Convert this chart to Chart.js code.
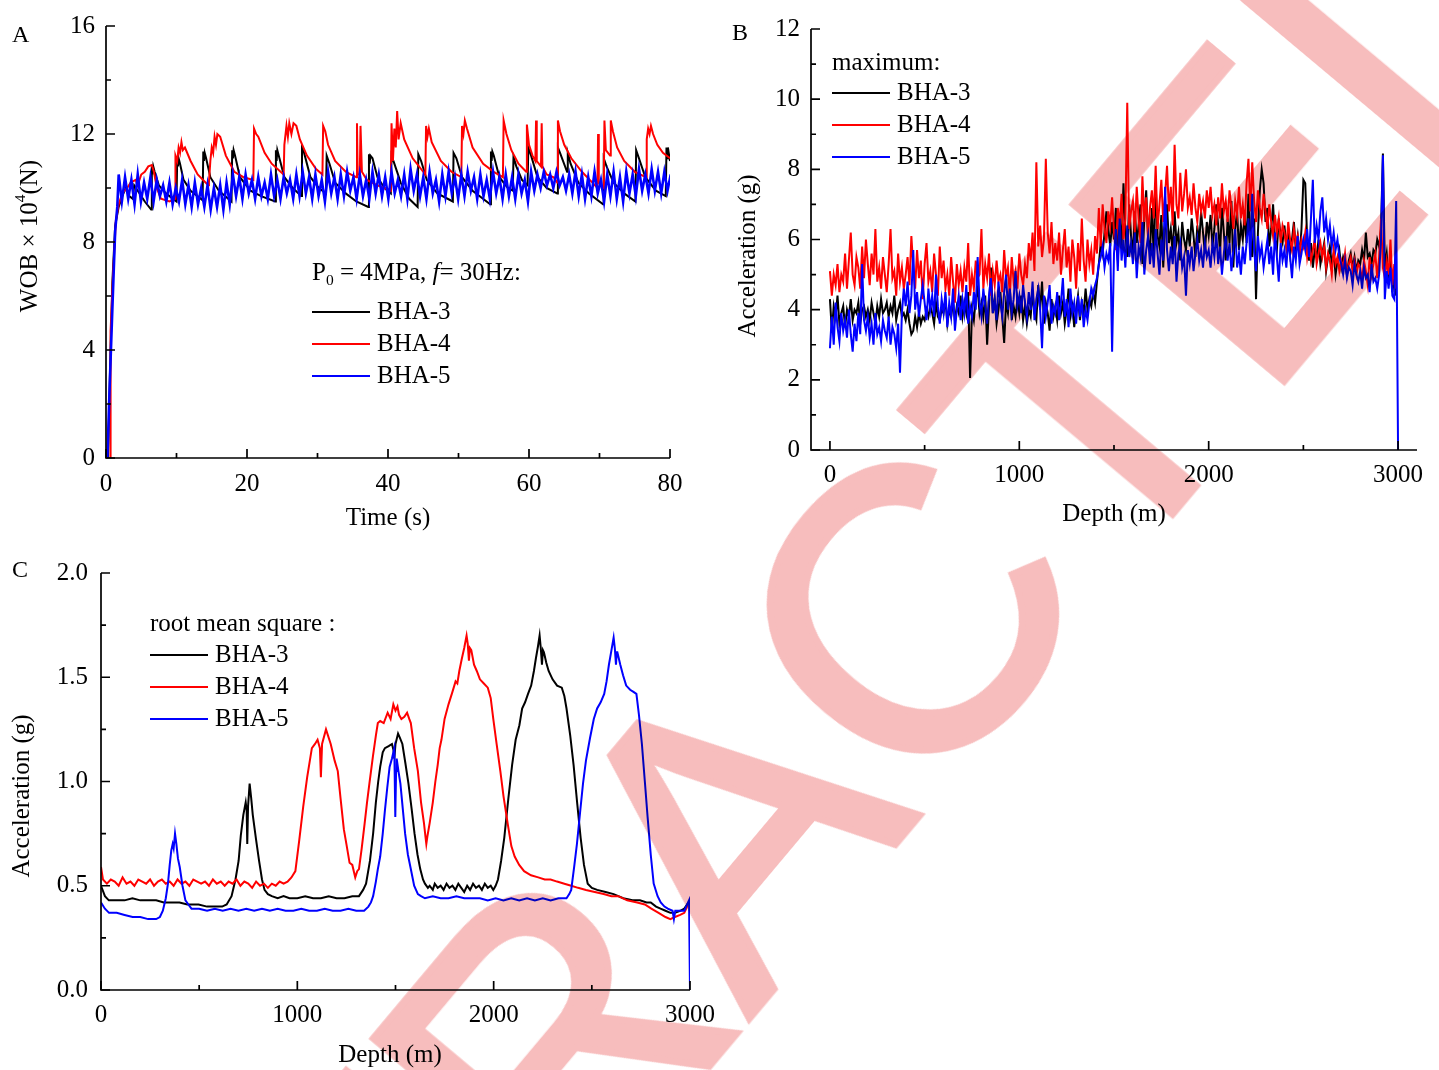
<!DOCTYPE html>
<html><head><meta charset="utf-8">
<script src="https://cdn.jsdelivr.net/npm/chart.js@4.4.1/dist/chart.umd.min.js"></script>
<style>
html,body{margin:0;padding:0;background:#fff;overflow:hidden;width:1439px;height:1070px;}
.panel{position:absolute;}
#wm{position:absolute;left:-210px;top:1636px;transform-origin:0 0;transform:rotate(-50deg);font-family:'Liberation Sans',Arial,sans-serif;font-size:400px;line-height:1;color:rgb(247,189,189);-webkit-text-stroke:7px rgb(247,189,189);mix-blend-mode:multiply;white-space:nowrap;pointer-events:none;}
</style></head><body>
<div class="panel" style="left:0;top:0"><canvas id="cA" width="700" height="545"></canvas></div>
<div class="panel" style="left:720px;top:0"><canvas id="cB" width="719" height="545"></canvas></div>
<div class="panel" style="left:0;top:545px"><canvas id="cC" width="740" height="525"></canvas></div>
<div id="wm">RETRACTED</div>
<script>
// ---------------- DATA ----------------
const seriesNames = ['BHA-3', 'BHA-4', 'BHA-5'];
const seriesColors = ['#000000', '#ff0000', '#0000ff'];

// Panel A: WOB vs time  ([time s, WOB x10^4 N])
const timeTicksA = [0, 20, 40, 60, 80];
const timeMinorA = [10, 30, 50, 70];
const wobTicksA = [0, 4, 8, 12, 16];
const wobMinorA = [2, 6, 10, 14];

const wobBlack = [[0.3,0],[0.55,3.0],[0.9,6.5],[1.3,8.6],[1.8,9.3],[2.3,9.7],[2.8,10.0],[3.3,9.7],[3.8,9.6],[4.0,10.1],[4.5,9.9],[5.5,9.5],[6.4,9.2],[6.5,10.8],[6.6,10.5],[6.7,10.8],[6.9,10.6],[7.5,10.1],[8.5,9.8],[10.0,9.5],[10.1,11.1],[10.2,10.8],[10.3,11.1],[10.5,10.9],[11.0,10.3],[12.0,9.9],[13.7,9.55],[13.8,11.35],[13.9,11.0],[14.0,11.3],[14.2,11.1],[14.8,10.4],[16.0,9.9],[17.8,9.5],[17.9,11.4],[18.0,11.1],[18.1,11.4],[18.3,11.2],[19.0,10.4],[20.5,9.9],[22.0,9.7],[24.0,9.5],[24.1,11.4],[24.2,11.0],[24.3,11.4],[24.5,11.2],[25.3,10.4],[26.5,10.0],[27.7,9.7],[27.8,11.5],[28.1,11.3],[29.0,10.4],[30.2,10.0],[31.2,9.8],[31.3,11.2],[31.7,10.9],[32.5,10.2],[34.0,9.8],[35.5,9.5],[37.2,9.3],[37.3,11.25],[37.4,10.9],[37.5,11.2],[37.8,11.1],[38.5,10.4],[39.5,10.0],[40.4,9.8],[40.5,11.2],[40.9,10.9],[41.8,10.2],[43.0,9.6],[44.2,9.3],[44.3,11.25],[44.7,11.0],[45.5,10.3],[47.0,9.8],[49.2,9.5],[49.3,11.3],[49.7,11.1],[50.5,10.4],[52.0,9.9],[54.5,9.4],[54.6,11.35],[54.7,11.0],[54.8,11.35],[55.0,11.2],[55.8,10.4],[57.0,10.0],[57.7,9.9],[57.8,11.15],[58.2,10.8],[59.0,10.3],[59.8,10.1],[59.9,11.5],[60.3,11.2],[61.2,10.4],[62.5,10.0],[64.0,9.8],[64.1,11.5],[64.4,11.3],[65.4,10.6],[65.5,11.3],[65.9,10.9],[67.0,10.2],[68.5,9.8],[70.5,9.4],[70.6,11.1],[71.0,10.8],[72.0,10.2],[73.5,9.8],[75.1,9.5],[75.2,11.4],[75.6,11.1],[76.5,10.4],[78.0,9.9],[79.4,9.7],[79.5,11.5],[79.6,11.1],[79.7,11.5],[80.0,11.0]];

const wobRed = [[0.6,0],[0.65,4.7],[1.0,6.8],[1.4,8.8],[1.8,9.4],[2.3,9.8],[3.0,10.0],[3.5,10.2],[4.2,10.3],[4.5,10.1],[5.0,10.5],[5.5,10.6],[6.0,10.8],[6.5,10.85],[6.8,10.6],[7.2,10.0],[7.8,9.6],[9.0,9.5],[9.8,9.6],[9.85,11.2],[10.1,11.0],[10.3,11.5],[10.5,11.3],[10.7,11.7],[10.9,11.4],[11.2,11.5],[12.0,11.0],[13.0,10.5],[14.5,10.1],[14.6,10.2],[14.8,11.0],[15.0,11.5],[15.2,11.3],[15.4,11.9],[15.6,11.6],[15.8,12.0],[16.2,11.9],[17.0,11.2],[18.2,10.6],[19.5,10.4],[20.9,10.3],[21.0,12.2],[21.3,12.0],[21.6,11.9],[22.5,11.3],[23.5,10.9],[25.2,10.5],[25.3,11.6],[25.6,12.3],[25.8,11.9],[26.0,12.4],[26.3,12.0],[26.6,12.4],[27.0,12.3],[27.5,11.8],[28.5,11.2],[29.8,10.7],[30.7,10.5],[30.8,12.3],[31.1,12.1],[31.5,11.6],[32.5,11.0],[34.0,10.6],[35.5,10.4],[35.6,12.4],[35.7,10.5],[36.0,10.5],[36.1,12.3],[36.3,10.6],[37.0,10.3],[38.5,10.1],[39.5,10.0],[40.4,9.9],[40.5,12.4],[40.7,11.0],[40.9,12.2],[41.1,11.5],[41.3,12.85],[41.5,11.8],[41.8,12.4],[42.3,11.8],[43.5,11.1],[45.3,10.5],[45.4,12.3],[45.6,11.9],[45.8,12.2],[46.2,11.7],[47.5,11.0],[49.0,10.6],[50.4,10.4],[50.5,12.3],[50.7,12.0],[50.9,12.5],[51.2,12.2],[52.0,11.5],[53.5,10.9],[55.0,10.6],[56.3,10.4],[56.4,12.5],[56.8,12.0],[57.5,11.4],[58.5,10.9],[59.6,10.6],[59.7,12.35],[60.0,11.6],[60.5,11.2],[60.9,11.0],[61.0,12.5],[61.1,11.0],[61.7,10.8],[61.8,12.4],[61.9,10.8],[62.5,10.5],[63.5,10.4],[64.0,10.2],[64.1,12.5],[64.4,12.1],[65.0,11.6],[66.0,11.1],[67.5,10.6],[69.0,10.2],[69.7,10.0],[69.8,12.0],[69.9,10.2],[70.6,10.0],[70.7,12.5],[70.9,11.4],[71.5,11.2],[71.6,12.5],[71.9,12.1],[72.5,11.5],[73.5,11.0],[75.0,10.6],[76.6,10.4],[76.7,11.8],[76.9,12.2],[77.1,12.0],[77.3,12.3],[77.6,12.0],[78.2,11.6],[79.0,11.3],[80.0,11.1]];

const wobBlueStart = [[0.2,0],[0.5,2.5],[0.9,5.5],[1.3,8.4],[1.6,9.3]];
const blueT0 = 1.8, blueDt = 0.45;   // sampling of the oscillating part
const wobBlueOsc = [
10.5,9.5,10.4,9.6,10.3,9.4,10.5,9.5,10.2,9.6,10.4,9.5,10.3,9.7,
10.1,9.5,10.2,9.4,10.0,9.5,10.3,9.4,10.1,9.3,10.2,9.4,10.0,9.3,10.1,9.2,10.0,9.3,10.1,9.2,10.2,9.4,
10.5,9.7,10.4,9.6,10.5,9.8,10.3,9.6,10.4,9.7,10.2,9.6,10.5,9.7,10.3,9.6,10.4,9.8,10.3,9.6,10.5,9.7,
10.6,9.8,10.4,9.6,10.5,9.7,10.3,9.5,10.6,9.8,10.4,9.6,10.5,9.7,10.6,9.9,10.4,9.6,10.5,9.7,10.3,9.6,
10.6,9.8,10.5,9.7,10.4,9.6,10.6,9.8,10.3,9.7,10.5,9.6,10.7,9.9,10.5,9.7,10.4,9.6,10.6,9.8,10.3,9.5,
10.5,9.7,10.6,9.8,10.4,9.6,10.5,9.7,10.6,9.9,10.4,9.6,10.5,9.7,10.3,9.6,10.6,9.8,10.4,9.6,10.5,9.7,
10.4,9.6,10.5,9.8,10.3,9.5,10.6,9.9,10.5,10.0,10.6,10.1,10.5,10.0,10.6,10.1,10.4,9.9,10.5,9.8,10.6,9.7,
10.5,9.6,10.4,9.7,10.6,9.8,10.3,9.5,10.5,9.7,10.6,9.6,10.4,9.5,10.6,9.8,10.5,9.7,10.7,9.9,10.5,9.8,
10.7,9.9,10.6,9.8,10.6,9.9,10.5];

// Panel B: maximum acceleration vs depth (10 m sampling)
const depthStepB = 10;
const depthTicksB = [0, 1000, 2000, 3000];
const depthMinorB = [500, 1500, 2500];
const accTicksB = [0, 2, 4, 6, 8, 10, 12];
const accMinorB = [1, 3, 5, 7, 9, 11];
const maxBlack = [
4.3,3.4,4.1,3.8,4.4,3.6,3.9,4.1,3.5,4.0, 3.8,4.3,3.7,4.0,3.9,4.2,3.6,4.0,4.1,3.8,
4.0,3.7,4.2,3.9,3.6,4.1,3.8,4.3,3.9,4.0, 4.2,3.8,4.1,3.9,4.4,3.7,4.0,4.2,3.8,3.9,
3.7,4.0,3.6,3.3,3.4,3.8,3.5,3.9,3.6,3.8, 3.7,4.0,3.8,4.1,3.9,3.6,4.2,3.8,3.7,4.0,
3.9,4.3,3.6,4.0,3.8,4.2,3.7,4.1,3.9,4.4, 3.8,4.2,3.9,4.5,2.05,4.0,3.7,4.3,4.6,3.9,
4.2,3.8,4.4,3.0,4.1,5.2,3.9,4.3,3.6,4.0, 4.5,3.8,3.05,4.2,3.9,4.6,3.7,4.1,3.8,4.3,
3.9,4.4,3.7,4.1,3.6,4.0,3.8,4.5,3.9,3.7, 4.7,4.0,4.8,3.6,4.2,3.9,3.4,4.3,3.8,4.1,
3.7,4.4,3.9,4.2,3.6,4.0,4.6,3.8,4.1,3.5, 4.0,4.4,3.7,4.2,3.9,4.6,4.0,4.3,4.1,4.5,
4.2,4.8,5.3,5.9,5.6,6.2,6.8,6.3,5.8,6.5, 6.0,6.9,5.4,6.6,5.8,7.6,6.2,5.5,7.0,6.1,
5.6,6.8,5.9,6.4,7.0,5.3,6.6,7.4,6.0,5.7, 6.9,5.5,7.6,6.1,5.8,6.7,5.2,6.4,7.0,5.9,
6.3,5.6,6.8,5.9,6.2,5.4,6.5,6.0,5.7,6.3, 5.8,6.6,6.1,5.5,6.4,5.9,6.8,6.2,5.6,6.5,
6.1,6.7,5.8,6.3,7.0,6.4,5.6,6.9,6.2,5.4, 6.6,5.9,7.1,5.2,6.3,6.8,5.7,6.4,6.0,6.7,
5.9,7.3,6.1,5.5,6.6,4.3,6.2,7.4,8.0,7.6, 6.5,6.9,5.8,6.3,7.0,6.0,5.7,6.6,6.1,5.9,
6.4,5.8,6.2,5.6,6.0,6.5,5.7,6.1,5.5,6.3, 7.7,7.6,6.0,5.4,5.9,5.2,5.7,5.5,6.0,5.3,
5.6,5.9,5.1,5.5,5.8,5.3,5.6,5.0,5.4,5.7, 5.2,5.5,5.3,5.0,5.4,5.6,5.2,5.5,5.1,5.4,
5.3,5.7,5.4,6.2,5.5,5.6,5.3,5.7,5.6,6.0, 5.8,6.3,8.45,5.2,5.6,4.8,5.4,4.5,4.9,4.4];
const maxRed = [
5.1,4.4,5.0,4.7,5.3,4.5,5.0,4.8,5.6,4.6, 5.4,6.2,5.0,4.7,5.5,5.2,4.6,5.8,4.9,6.0,
5.3,4.7,5.6,5.0,6.3,4.8,5.2,4.6,5.5,5.0, 4.5,5.3,6.3,4.9,5.1,4.4,5.6,4.8,5.2,4.6,
5.0,5.5,4.7,6.1,5.2,4.6,5.7,4.9,5.4,4.3, 5.3,5.9,4.8,5.1,4.5,5.6,5.0,4.4,5.8,4.9,
5.4,4.6,5.0,4.4,5.5,4.8,4.2,5.3,4.7,5.1, 4.5,5.2,4.8,5.9,4.4,5.0,4.6,5.4,4.9,5.0,
6.3,4.6,5.3,4.9,5.6,4.4,5.1,4.7,5.4,4.8, 5.0,4.5,5.7,4.9,5.2,4.4,5.5,4.8,5.1,4.6,
5.6,5.0,4.7,5.3,4.9,5.9,5.4,6.2,5.1,8.2, 5.8,6.4,5.5,6.0,8.3,6.2,5.6,6.5,5.3,5.9,
5.4,6.2,5.0,5.7,6.3,5.2,5.8,4.8,6.0,5.5, 4.6,5.9,5.1,6.6,5.4,4.8,6.0,5.3,5.7,5.0,
6.1,5.6,6.9,5.8,7.0,6.3,5.9,6.8,6.4,7.2, 6.2,5.7,6.9,6.4,7.3,6.0,6.6,9.9,6.3,6.8,
7.1,6.2,7.5,6.6,5.9,7.8,6.5,7.2,6.1,6.9, 7.4,6.6,8.1,6.3,7.0,7.7,6.5,7.3,8.1,6.8,
7.5,6.4,8.7,7.0,6.6,7.9,6.8,7.3,8.0,6.9, 7.2,6.7,7.6,6.9,6.5,7.3,6.8,7.1,6.6,7.4,
6.9,7.5,6.7,7.0,6.4,7.2,6.6,7.6,6.8,7.1, 6.5,7.4,6.9,6.3,7.1,6.7,7.5,6.6,7.0,6.4,
7.6,8.3,6.8,8.2,7.1,6.5,7.4,6.9,6.6,7.3, 6.8,6.3,7.0,6.5,6.1,6.7,6.2,6.6,5.9,6.4,
6.2,5.8,6.5,6.0,5.7,6.3,5.9,6.1,5.6,6.0, 5.8,6.2,5.5,5.9,5.4,5.7,6.0,5.3,5.6,5.9,
5.5,5.8,5.2,5.6,5.4,5.0,5.7,5.3,5.5,5.1, 5.4,5.2,5.6,5.0,5.3,5.5,5.1,5.4,5.0,5.3,
5.2,4.8,5.4,5.1,4.7,5.5,5.0,5.3,5.6,4.9, 5.5,6.6,5.2,4.9,5.4,5.0,6.0,4.7,5.3,4.6];
const maxBlue = [
2.9,3.8,3.0,4.2,3.5,3.1,3.9,3.4,3.7,3.2, 4.0,3.3,2.8,3.6,3.1,3.9,3.3,5.3,3.7,3.4,
3.8,3.2,3.6,3.0,3.9,3.3,3.5,3.1,3.7,3.4, 3.2,3.8,3.0,3.5,3.3,2.9,3.6,2.2,3.9,4.6,
4.1,4.8,3.9,4.4,5.7,4.0,4.5,3.8,4.3,4.7, 4.2,3.7,4.6,4.0,4.4,3.8,5.0,4.1,3.6,4.3,
3.9,4.5,3.5,4.2,3.8,4.6,3.4,4.0,4.4,3.7, 4.3,3.9,4.7,3.6,4.1,3.8,4.5,4.0,5.5,4.2,
3.8,4.6,4.1,3.6,4.4,4.9,3.9,4.3,3.7,4.8, 4.2,3.8,4.5,5.0,4.0,4.6,3.9,4.3,5.1,4.1,
4.4,3.9,4.7,4.2,3.8,4.5,4.0,4.8,3.7,4.3, 4.6,4.0,2.9,4.4,3.8,4.2,4.7,3.6,4.1,3.9,
4.5,3.7,4.2,4.9,3.8,4.3,3.5,4.6,3.9,4.2, 3.6,4.4,3.8,4.3,3.5,4.0,3.7,4.2,4.6,4.4,
4.7,4.9,5.3,5.5,5.8,5.2,5.6,5.4,5.9,2.8, 5.6,6.3,5.1,6.6,5.4,6.0,5.2,6.4,5.5,5.9,
5.3,6.2,4.9,5.8,5.5,6.5,5.0,5.7,6.1,5.3, 5.9,5.2,6.3,5.6,5.0,6.0,5.4,7.5,5.7,5.1,
5.8,5.3,6.1,4.8,5.6,5.9,5.2,5.5,4.4,5.7, 5.3,5.8,5.1,5.6,6.0,5.4,5.7,5.2,5.9,5.5,
5.7,5.2,5.9,5.5,6.2,5.3,5.8,5.0,5.6,6.1, 5.4,5.9,5.1,5.7,6.3,5.2,5.6,5.0,5.8,5.3,
5.9,6.6,5.4,7.3,5.7,5.1,6.1,5.5,5.8,5.2, 5.6,6.0,5.3,5.8,5.0,6.2,5.5,4.8,5.9,5.4,
5.7,5.2,6.0,5.5,4.9,5.8,5.4,6.1,5.3,5.6, 6.0,5.7,6.3,5.5,6.6,7.7,5.9,6.4,6.0,6.8,
7.2,6.2,6.6,6.0,6.4,5.8,6.2,5.7,6.0,5.5, 5.3,5.0,5.4,4.9,5.2,5.1,4.7,5.3,5.0,4.8,
5.1,4.6,5.2,4.9,5.0,4.5,5.3,4.8,4.9,4.6, 5.0,6.0,8.4,4.3,5.1,4.6,5.2,4.4,4.3,7.1,
0.0];

// Panel C: RMS acceleration vs depth ([depth m, acceleration g])
const depthTicksC = [0, 1000, 2000, 3000];
const depthMinorC = [500, 1500, 2500];
const accTicksC = [0, 0.5, 1.0, 1.5, 2.0];
const accMinorC = [0.25, 0.75, 1.25, 1.75];
const rmsBlack = [[0,0.50],[20,0.45],[40,0.43],[80,0.43],[120,0.43],[160,0.44],[200,0.43],[240,0.43],[281,0.43],[320,0.42],[360,0.42],[400,0.42],[440,0.41],[497,0.41],[540,0.40],[580,0.40],[617,0.40],[640,0.41],[665,0.45],[685,0.53],[701,0.62],[712,0.74],[725,0.84],[737,0.90],[742,0.86],[745,0.70],[749,0.88],[757,0.99],[765,0.92],[773,0.84],[790,0.72],[805,0.62],[820,0.53],[833,0.48],[850,0.46],[870,0.45],[900,0.44],[930,0.45],[960,0.44],[1000,0.44],[1040,0.45],[1080,0.44],[1120,0.44],[1160,0.45],[1200,0.44],[1240,0.44],[1280,0.45],[1314,0.45],[1335,0.48],[1350,0.51],[1370,0.62],[1386,0.75],[1400,0.90],[1412,1.00],[1422,1.07],[1435,1.14],[1446,1.16],[1465,1.17],[1482,1.18],[1490,1.15],[1494,1.11],[1500,1.18],[1513,1.23],[1522,1.21],[1535,1.18],[1550,1.09],[1566,0.99],[1582,0.87],[1597,0.75],[1612,0.65],[1626,0.58],[1640,0.53],[1650,0.51],[1665,0.49],[1674,0.50],[1690,0.48],[1700,0.51],[1715,0.49],[1730,0.50],[1745,0.48],[1760,0.51],[1775,0.49],[1790,0.50],[1805,0.48],[1820,0.51],[1835,0.49],[1850,0.47],[1865,0.50],[1880,0.48],[1895,0.51],[1910,0.49],[1925,0.50],[1940,0.48],[1955,0.51],[1970,0.49],[1985,0.50],[1998,0.48],[2010,0.50],[2022,0.53],[2038,0.62],[2054,0.73],[2075,0.92],[2094,1.08],[2112,1.20],[2131,1.27],[2145,1.35],[2160,1.38],[2175,1.42],[2191,1.46],[2205,1.53],[2215,1.59],[2226,1.65],[2234,1.70],[2240,1.64],[2246,1.56],[2251,1.63],[2256,1.62],[2268,1.57],[2280,1.53],[2300,1.49],[2323,1.46],[2347,1.45],[2360,1.41],[2371,1.35],[2390,1.22],[2407,1.08],[2425,0.90],[2443,0.73],[2460,0.60],[2479,0.51],[2500,0.49],[2527,0.48],[2570,0.47],[2611,0.46],[2660,0.44],[2707,0.43],[2745,0.43],[2779,0.42],[2800,0.42],[2827,0.40],[2850,0.39],[2875,0.38],[2900,0.37],[2923,0.37],[2950,0.38],[2971,0.39],[3000,0.43]];
const rmsRed = [[0,0.59],[10,0.53],[30,0.51],[50,0.53],[70,0.52],[90,0.50],[110,0.54],[130,0.51],[150,0.52],[170,0.50],[190,0.53],[210,0.52],[230,0.51],[250,0.53],[270,0.50],[290,0.52],[310,0.53],[330,0.51],[350,0.52],[370,0.50],[390,0.53],[410,0.51],[430,0.52],[450,0.50],[470,0.53],[490,0.52],[510,0.51],[530,0.52],[550,0.50],[570,0.53],[590,0.51],[610,0.52],[630,0.50],[650,0.52],[670,0.51],[690,0.53],[710,0.50],[730,0.52],[750,0.51],[770,0.49],[790,0.52],[810,0.50],[830,0.51],[850,0.49],[870,0.51],[890,0.50],[910,0.52],[930,0.51],[950,0.52],[970,0.54],[990,0.57],[1010,0.72],[1030,0.88],[1050,1.02],[1074,1.16],[1090,1.18],[1103,1.20],[1115,1.16],[1120,1.02],[1126,1.18],[1146,1.25],[1170,1.18],[1190,1.10],[1206,1.05],[1220,0.92],[1237,0.77],[1250,0.70],[1266,0.61],[1280,0.60],[1295,0.54],[1305,0.57],[1314,0.58],[1328,0.68],[1343,0.80],[1355,0.90],[1367,0.99],[1385,1.12],[1400,1.22],[1410,1.28],[1422,1.29],[1440,1.28],[1460,1.33],[1475,1.30],[1489,1.37],[1500,1.34],[1510,1.36],[1518,1.32],[1530,1.30],[1545,1.31],[1559,1.33],[1570,1.30],[1578,1.28],[1595,1.16],[1614,1.05],[1630,0.90],[1645,0.80],[1652,0.74],[1657,0.70],[1663,0.74],[1674,0.80],[1690,0.90],[1703,1.00],[1715,1.08],[1725,1.16],[1734,1.20],[1750,1.30],[1770,1.37],[1790,1.43],[1806,1.48],[1815,1.47],[1825,1.53],[1838,1.59],[1850,1.64],[1862,1.70],[1868,1.66],[1874,1.58],[1879,1.64],[1886,1.63],[1900,1.56],[1914,1.53],[1930,1.49],[1950,1.47],[1970,1.45],[1985,1.40],[1998,1.30],[2015,1.18],[2034,1.05],[2050,0.93],[2071,0.80],[2090,0.69],[2107,0.64],[2130,0.60],[2155,0.57],[2190,0.55],[2227,0.54],[2260,0.53],[2290,0.53],[2323,0.52],[2360,0.51],[2395,0.50],[2430,0.49],[2470,0.48],[2515,0.47],[2560,0.46],[2600,0.45],[2635,0.45],[2680,0.43],[2731,0.42],[2770,0.41],[2803,0.39],[2840,0.37],[2875,0.35],[2900,0.34],[2923,0.35],[2950,0.36],[2971,0.37],[2995,0.42]];
const rmsBlue = [[0,0.42],[20,0.39],[41,0.37],[80,0.37],[120,0.36],[161,0.35],[200,0.35],[240,0.34],[281,0.34],[300,0.35],[315,0.38],[330,0.44],[341,0.51],[350,0.60],[358,0.67],[365,0.70],[370,0.68],[377,0.75],[384,0.70],[392,0.63],[401,0.59],[415,0.50],[430,0.43],[445,0.41],[461,0.39],[500,0.39],[540,0.38],[580,0.39],[620,0.38],[660,0.39],[700,0.38],[740,0.39],[780,0.38],[820,0.39],[860,0.38],[900,0.39],[940,0.38],[980,0.38],[1020,0.39],[1060,0.38],[1100,0.38],[1140,0.39],[1180,0.38],[1220,0.38],[1260,0.39],[1300,0.38],[1340,0.38],[1362,0.40],[1375,0.42],[1386,0.45],[1400,0.52],[1410,0.58],[1422,0.64],[1435,0.75],[1446,0.86],[1458,0.97],[1470,1.07],[1482,1.11],[1494,1.16],[1499,0.83],[1503,1.05],[1506,1.11],[1515,1.05],[1525,0.99],[1537,0.87],[1549,0.75],[1563,0.65],[1578,0.58],[1595,0.50],[1614,0.46],[1630,0.45],[1650,0.44],[1690,0.45],[1730,0.44],[1770,0.44],[1810,0.45],[1850,0.44],[1890,0.44],[1930,0.44],[1970,0.43],[2010,0.44],[2050,0.43],[2090,0.44],[2130,0.43],[2170,0.44],[2210,0.43],[2250,0.44],[2290,0.43],[2330,0.44],[2371,0.44],[2385,0.46],[2395,0.48],[2410,0.59],[2424,0.70],[2440,0.85],[2455,0.99],[2470,1.10],[2491,1.21],[2510,1.30],[2527,1.35],[2545,1.38],[2563,1.42],[2575,1.48],[2587,1.56],[2600,1.63],[2611,1.69],[2617,1.64],[2623,1.56],[2627,1.62],[2630,1.62],[2645,1.56],[2659,1.51],[2675,1.46],[2695,1.44],[2712,1.43],[2727,1.42],[2740,1.32],[2755,1.18],[2770,1.00],[2784,0.83],[2800,0.65],[2815,0.51],[2835,0.45],[2851,0.42],[2870,0.40],[2887,0.39],[2911,0.38],[2918,0.34],[2925,0.38],[2935,0.38],[2950,0.38],[2971,0.38],[2995,0.43],[3000,0.0]];

// ---------------- BUILD ----------------
const FF = '"Liberation Serif", "Times New Roman", serif';
const TXT = 25;
const pairs = p => p.map(([x, y]) => ({x, y}));
const gridB = vals => vals.map((v, i) => ({x: i * depthStepB, y: v}));
const blueA = pairs(wobBlueStart).concat(wobBlueOsc.map((v, i) => ({x: blueT0 + i * blueDt, y: v})));

function rich(ctx, pieces, x, y, size, align) {
  const fontOf = p => (p.it ? 'italic ' : '') + ((p.sub || p.sup) ? size * 0.62 : size) + 'px ' + FF;
  let total = 0;
  pieces.forEach(p => { ctx.font = fontOf(p); total += ctx.measureText(p.t).width; });
  let cx = align === 'center' ? x - total / 2 : x;
  ctx.textAlign = 'left';
  pieces.forEach(p => {
    ctx.font = fontOf(p);
    const dy = p.sub ? size * 0.32 : (p.sup ? -size * 0.36 : 0);
    ctx.fillText(p.t, cx, y + dy);
    cx += ctx.measureText(p.t).width;
  });
}

const deco = {
  id: 'deco',
  afterDraw(chart, args, o) {
    const ctx = chart.ctx, a = chart.chartArea, sx = chart.scales.x, sy = chart.scales.y;
    ctx.save();
    ctx.strokeStyle = '#000'; ctx.lineWidth = 1.7;
    ctx.beginPath();
    ctx.moveTo(a.left, a.top); ctx.lineTo(a.left, a.bottom); ctx.lineTo(a.right, a.bottom);
    ctx.stroke();
    ctx.beginPath();
    o.xMajor.forEach(v => { const p = sx.getPixelForValue(v); ctx.moveTo(p, a.bottom); ctx.lineTo(p, a.bottom - 9); });
    o.xMinor.forEach(v => { const p = sx.getPixelForValue(v); ctx.moveTo(p, a.bottom); ctx.lineTo(p, a.bottom - 5); });
    o.yMajor.forEach(v => { const p = sy.getPixelForValue(v); ctx.moveTo(a.left, p); ctx.lineTo(a.left + 9, p); });
    o.yMinor.forEach(v => { const p = sy.getPixelForValue(v); ctx.moveTo(a.left, p); ctx.lineTo(a.left + 5, p); });
    ctx.stroke();
    ctx.fillStyle = '#000'; ctx.textBaseline = 'middle';
    rich(ctx, o.xTitle, o.xTitlePos[0], o.xTitlePos[1], TXT, 'center');
    ctx.save(); ctx.translate(o.yTitlePos[0], o.yTitlePos[1]); ctx.rotate(-Math.PI / 2);
    rich(ctx, o.yTitle, 0, 0, TXT, 'center'); ctx.restore();
    rich(ctx, [{t: o.letter}], o.letterPos[0], o.letterPos[1], 24, 'left');
    const L = o.legend;
    rich(ctx, L.title, L.x, L.titleY, TXT, 'left');
    chart.data.datasets.forEach((ds, i) => {
      const y = L.y0 + i * L.dy;
      ctx.strokeStyle = ds.borderColor; ctx.lineWidth = 2;
      ctx.beginPath(); ctx.moveTo(L.x, y); ctx.lineTo(L.x + L.len, y); ctx.stroke();
      rich(ctx, [{t: ds.label}], L.x + L.len + 7, y, TXT, 'left');
    });
    ctx.restore();
  }
};

function makeChart(id, c) {
  const tickFont = {family: FF, size: 25};
  return new Chart(document.getElementById(id), {
    type: 'line',
    data: {datasets: c.series.map((s, i) => ({
      label: seriesNames[i], data: s, borderColor: seriesColors[i], backgroundColor: seriesColors[i],
      borderWidth: c.widths[i], pointRadius: 0, tension: 0, fill: false, order: 3 - i
    }))},
    options: {
      responsive: false, animation: false, devicePixelRatio: 1,
      layout: {padding: {left: 0, top: c.top, right: c.right, bottom: 0}},
      plugins: {legend: {display: false}, tooltip: {enabled: false}, deco: c.deco},
      scales: {
        x: {type: 'linear', min: c.xMin, max: c.xMax,
            grid: {display: false, drawTicks: false}, border: {display: false},
            afterBuildTicks: s => { s.ticks = c.xTicks.map(v => ({value: v})); },
            ticks: {font: tickFont, color: '#000', padding: c.xPad, maxRotation: 0, autoSkip: false, callback: v => String(v)},
            afterFit: s => { s.height = c.xHeight; }},
        y: {type: 'linear', min: c.yMin, max: c.yMax,
            grid: {display: false, drawTicks: false}, border: {display: false},
            afterBuildTicks: s => { s.ticks = c.yTicks.map(v => ({value: v})); },
            ticks: {font: tickFont, color: '#000', padding: c.yPad, autoSkip: false, callback: c.yFmt},
            afterFit: s => { s.width = c.yWidth; }}
      }
    },
    plugins: [deco]
  });
}

const legendTitleA = [{t: 'P'}, {t: '0', sub: true}, {t: ' = 4MPa, '}, {t: 'f', it: true}, {t: '= 30Hz:'}];

makeChart('cA', {
  series: [pairs(wobBlack), pairs(wobRed), blueA], widths: [2, 2, 2.6],
  top: 22, right: 30, xHeight: 87, yWidth: 106, xPad: 11, yPad: 11,
  xMin: 0, xMax: 80, yMin: 0, yMax: 16, xTicks: timeTicksA, yTicks: wobTicksA, yFmt: v => String(v),
  deco: {xMajor: timeTicksA, xMinor: timeMinorA, yMajor: wobTicksA, yMinor: wobMinorA,
    xTitle: [{t: 'Time (s)'}], xTitlePos: [388, 518],
    yTitle: [{t: 'WOB \u00d7 10'}, {t: '4', sup: true}, {t: '(N)'}], yTitlePos: [30, 236],
    letter: 'A', letterPos: [12, 36],
    legend: {title: legendTitleA, x: 312, titleY: 273, y0: 312, dy: 32, len: 58}}
});

makeChart('cB', {
  series: [gridB(maxBlack), gridB(maxRed), gridB(maxBlue)], widths: [2, 2, 2],
  top: 29, right: 22, xHeight: 95, yWidth: 91, xPad: 10, yPad: 11,
  xMin: -100, xMax: 3100, yMin: 0, yMax: 12, xTicks: depthTicksB, yTicks: accTicksB, yFmt: v => String(v),
  deco: {xMajor: depthTicksB, xMinor: depthMinorB, yMajor: accTicksB, yMinor: accMinorB,
    xTitle: [{t: 'Depth (m)'}], xTitlePos: [394, 514],
    yTitle: [{t: 'Acceleration (g)'}], yTitlePos: [28, 256],
    letter: 'B', letterPos: [12, 34],
    legend: {title: [{t: 'maximum:'}], x: 112, titleY: 63, y0: 93, dy: 32, len: 58}}
});

makeChart('cC', {
  series: [pairs(rmsBlack), pairs(rmsRed), pairs(rmsBlue)], widths: [2, 2, 2],
  top: 25, right: 50, xHeight: 80, yWidth: 101, xPad: 10, yPad: 13,
  xMin: 0, xMax: 3000, yMin: 0, yMax: 2.0, xTicks: depthTicksC, yTicks: accTicksC, yFmt: v => v.toFixed(1),
  deco: {xMajor: depthTicksC, xMinor: depthMinorC, yMajor: accTicksC, yMinor: accMinorC,
    xTitle: [{t: 'Depth (m)'}], xTitlePos: [390, 510],
    yTitle: [{t: 'Acceleration (g)'}], yTitlePos: [22, 251],
    letter: 'C', letterPos: [12, 26],
    legend: {title: [{t: 'root mean square :'}], x: 150, titleY: 79, y0: 110, dy: 32, len: 58}}
});
</script>
</body></html>
